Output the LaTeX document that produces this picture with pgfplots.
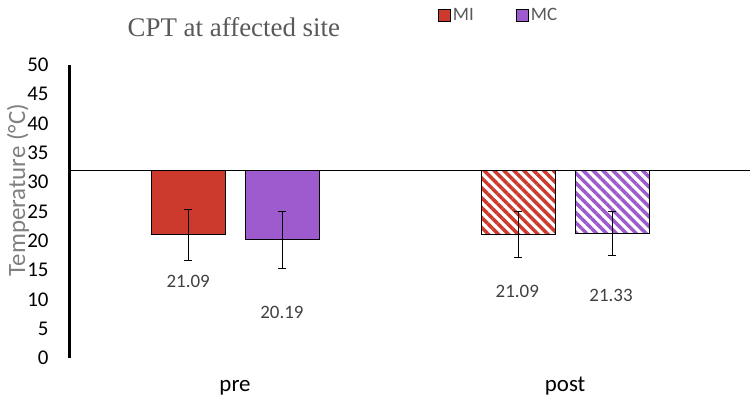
\documentclass[border=0pt]{standalone}
\usepackage{pgfplots}
\pgfplotsset{compat=1.18}
\usepackage{pgfplotstable}
\usetikzlibrary{patterns.meta}
\usepackage{fontspec}
\setmainfont{Carlito}
\newfontfamily\titlefont{Liberation Serif}

\definecolor{mired}{HTML}{CC3A2E}
\definecolor{mcpurple}{HTML}{9D5BCE}
\definecolor{labgray}{HTML}{808080}
\definecolor{titlegray}{HTML}{595959}
\definecolor{valgray}{HTML}{404040}

% bars hang from the 32 degC baseline: y is plotted as value - 32
\pgfplotstableread{
x v err
0 21.09 4.35
1 21.09 3.85
}\miData
\pgfplotstableread{
x v err
0 20.19 4.9
1 21.33 3.75
}\mcData
% value labels (x in axis units, ly in degC)
\pgfplotstableread{
x ly lbl
-0.142 13.0 21.09
0.142 7.7 20.19
0.855 11.3 21.09
1.139 10.6 21.33
}\lblData

\begin{document}
\begin{tikzpicture}
\useasboundingbox (-70bp,-51bp) rectangle (680bp,358bp);
\begin{axis}[
    at={(0,0)}, anchor=south west,
    scale only axis, width=680bp, height=293bp,
    xmin=-0.5, xmax=1.56, ymin=-32, ymax=18,
    axis y line*=left, axis x line*=bottom,
    x axis line style={draw=none},
    y axis line style={line width=3bp},
    major tick length=0,
    xtick={0,1}, xticklabels={pre,post},
    ytick={-32,-27,...,18},
    yticklabels={0,5,10,15,20,25,30,35,40,45,50},
    extra y ticks={0}, extra y tick labels={},
    extra y tick style={grid=major, major grid style={black, line width=1bp}},
    xticklabel style={font=\fontsize{23}{27}\selectfont, yshift=-23bp, text height=1.5ex, text depth=0.25ex},
    yticklabel style={font=\fontsize{21}{25}\selectfont, xshift=-18bp},
    ylabel={Temperature (°C)},
    every axis y label/.style={at={(axis description cs:0,0.573)}, xshift=-52bp, rotate=90, anchor=center,
        font=\fontsize{25}{30}\selectfont, text=labgray},
    title={CPT at affected site},
    title style={at={(axis description cs:0.241,1.109)}, anchor=center,
        font=\titlefont\fontsize{27}{32}\selectfont, text=titlegray},
    bar width=74bp, bar shift=0pt,
    legend columns=2,
    legend style={draw=none, fill=none, at={(axis description cs:0.536,1.17)}, anchor=west,
        font=\fontsize{19}{22}\selectfont, text=titlegray,
        /tikz/every even column/.append style={column sep=40bp}},
    legend image code/.code={\draw[#1, draw=black, line width=1.2bp] (0bp,-6bp) rectangle (12bp,6bp);},
    error bars/y dir=both, error bars/y explicit,
    error bars/error bar style={line width=0.8bp, black},
    error bars/error mark options={rotate=90, mark size=4bp, line width=0.8bp, black},
]
% pre (solid)
\addplot[ybar, fill=mired, draw=black, line width=0.8bp, restrict x to domain=-1:0.5]
    table[x expr=\thisrow{x}-0.1424, y expr=\thisrow{v}-32, y error=err] {\miData};
\addplot[ybar, fill=mcpurple, draw=black, line width=0.8bp, restrict x to domain=-1:0.5]
    table[x expr=\thisrow{x}+0.1424, y expr=\thisrow{v}-32, y error=err] {\mcData};
% post (hatched)
\addplot[ybar, draw=black, line width=0.8bp, forget plot,
    pattern={Lines[angle=-45, distance=7bp, line width=3.5bp]}, pattern color=mired,
    restrict x to domain=0.5:2]
    table[x expr=\thisrow{x}-0.1424, y expr=\thisrow{v}-32, y error=err] {\miData};
\addplot[ybar, draw=black, line width=0.8bp, forget plot,
    pattern={Lines[angle=-45, distance=7bp, line width=3.5bp]}, pattern color=mcpurple,
    restrict x to domain=0.5:2]
    table[x expr=\thisrow{x}+0.1424, y expr=\thisrow{v}-32, y error=err] {\mcData};
% value labels
\addplot[only marks, mark=none, forget plot, point meta=explicit symbolic,
    nodes near coords, nodes near coords style={anchor=center, text=valgray, font=\fontsize{19}{22}\selectfont},
    error bars/y dir=none]
    table[x=x, y expr=\thisrow{ly}-32, meta=lbl] {\lblData};
\legend{MI, MC}
\end{axis}
\end{tikzpicture}
\end{document}
